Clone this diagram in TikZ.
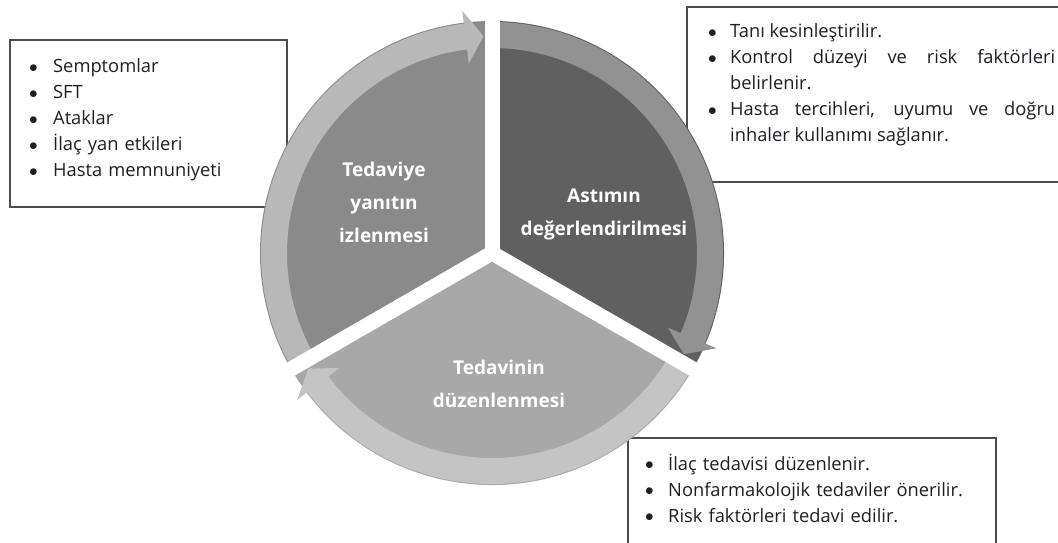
\documentclass[tikz,border=0pt]{standalone}
\usepackage{fontspec}
\setmainfont{Open Sans}
\usetikzlibrary{calc,positioning}

\definecolor{segA}{RGB}{138,138,138}
\definecolor{segB}{RGB}{96,96,96}
\definecolor{segC}{RGB}{168,168,168}
\definecolor{rimA}{RGB}{184,184,184}
\definecolor{rimB}{RGB}{146,146,146}
\definecolor{rimC}{RGB}{196,196,196}
\definecolor{listtext}{RGB}{30,30,40}

% no hyphenation in the lists
\hyphenpenalty=10000 \exhyphenpenalty=10000

% one bullet line with hanging indent
\newcommand\listdot{\raisebox{0.5pt}{$\bullet$}}
\newcommand\bul[2][22pt]{\hangindent=#1\hangafter=1\noindent\makebox[#1][l]{\listdot}#2\par}

\begin{document}
\begin{tikzpicture}[
    x=1pt, y=1pt,
    infobox/.style={draw=black!70, line width=1.1pt, fill=white},
    infolist/.style={anchor=base west, inner sep=0pt, text=listtext, font=\fontsize{18.3}{26}\selectfont},
    stage/.style={align=center, text=white, inner sep=0pt, font=\bfseries\fontsize{19}{33}\selectfont},
    gap/.style={white, line width=15pt}
]
\useasboundingbox (0,0) rectangle (1058,542);
\coordinate (c) at (492,289);

% list boxes (behind the cycle)
\draw[infobox] (10,502) rectangle (287,335);
\draw[infobox] (687,535) rectangle (1070,360);
\draw[infobox] (628,104) rectangle (996,-10);

% sectors
\fill[segA] (c) -- ($(c)+(90:232pt)$) arc[start angle=90, end angle=210, radius=232pt] -- cycle;
\fill[segB] (c) -- ($(c)+(-30:232pt)$) arc[start angle=-30, end angle=90, radius=232pt] -- cycle;
\fill[segC] (c) -- ($(c)+(210:232pt)$) arc[start angle=210, end angle=330, radius=232pt] -- cycle;

% rims ending in arrow heads
\fill[rimA] ($(c)+(210:205pt)$) arc[start angle=210, end angle=97, radius=205pt]
    -- ($(c)+(97:191pt)$) -- ($(c)+(92.2:217pt)$) -- ($(c)+(97:244pt)$)
    -- ($(c)+(97:231pt)$) arc[start angle=97, end angle=210, radius=231pt] -- cycle;
\fill[rimB] ($(c)+(90:205pt)$) arc[start angle=90, end angle=-23, radius=205pt]
    -- ($(c)+(-23:191pt)$) -- ($(c)+(-27.8:217pt)$) -- ($(c)+(-23:244pt)$)
    -- ($(c)+(-23:231pt)$) arc[start angle=-23, end angle=90, radius=231pt] -- cycle;
\fill[rimC] ($(c)+(-30:205pt)$) arc[start angle=-30, end angle=-143, radius=205pt]
    -- ($(c)+(-143:191pt)$) -- ($(c)+(-147.8:217pt)$) -- ($(c)+(-143:244pt)$)
    -- ($(c)+(-143:231pt)$) arc[start angle=-143, end angle=-30, radius=231pt] -- cycle;

% white gaps between the sectors
\draw[gap] (c) -- ($(c)+(90:260pt)$);
\draw[gap] (c) -- ($(c)+(210:260pt)$);
\draw[gap] (c) -- ($(c)+(330:260pt)$);

% stage names
\node[stage] (izlem) at (384,340) {Tedaviye\\yanıtın\\izlenmesi};
\node[stage] (degerlendirme) at (604,328) {Astımın\\değerlendirilmesi};
\node[stage] (duzenleme) at (499,158) {Tedavinin\\düzenlenmesi};

% lists
\node[infolist, text width=250pt] (izlemlist) at (29,469) {%
    \bul[24pt]{Semptomlar}\bul[24pt]{SFT}\bul[24pt]{Ataklar}\bul[24pt]{İlaç yan etkileri}\bul[24pt]{Hasta memnuniyeti}};
\node[infolist, text width=347pt, align=justify] (degerlist) at (708,504) {%
    \bul{Tanı kesinleştirilir.}\bul{Kontrol düzeyi ve risk faktörleri belirlenir.}\bul{Hasta tercihleri, uyumu ve doğru inhaler kullanımı sağlanır.}};
\node[infolist, text width=340pt] (duzenlist) at (645,72) {%
    \bul[23pt]{İlaç tedavisi düzenlenir.}\bul[23pt]{Nonfarmakolojik tedaviler önerilir.}\bul[23pt]{Risk faktörleri tedavi edilir.}};

\end{tikzpicture}
\end{document}
